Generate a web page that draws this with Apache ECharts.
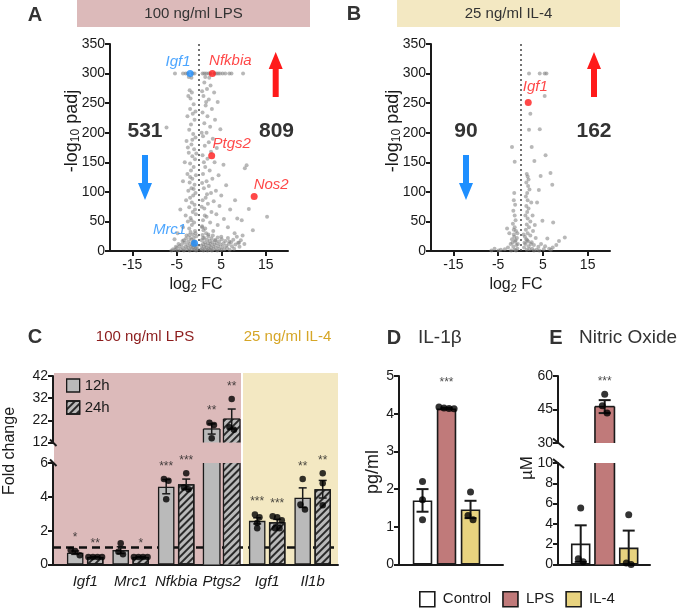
<!DOCTYPE html>
<html><head><meta charset="utf-8">
<script src="https://cdn.jsdelivr.net/npm/echarts@6/dist/echarts.min.js"></script>
<style>html,body{margin:0;padding:0;background:#fff}#c{width:677px;height:608px}</style>
</head><body><div id="c"></div>
<script>
// ---------------- DATA ----------------
const volcanoXTicks = [-15, -5, 5, 15];
const degCountsLPS = [531, 809];   // [down, up]
const degCountsIL4 = [90, 162];

const lpsGray = [
 [-5.4,300],[-3.6,300],[-3.0,300],[-2.6,300],[-1.4,300],[-1.0,300],[0.8,300],[1.2,300],[1.6,300],[2.1,300],[2.5,300],[3.5,300],[3.9,300],[4.3,300],[4.7,300],[5.3,300],[5.9,300],[6.8,300],[7.3,300],[9.9,300],[-2.3,294],[-1.7,293],[1.4,294],[2.3,293],
 [-2.1,272],[-1.6,268],[-2.4,262],[-1.2,248],[-2.0,240],[-1.4,232],[-2.6,228],[-1.0,222],[-1.8,214],[-2.2,205],[-1.3,198],[-0.8,192],[-2.8,186],[-1.7,180],[-1.1,172],[-2.3,166],[-1.5,160],[-0.9,155],[-3.2,150],[-2.0,148],[-1.2,142],[-1.8,136],[-2.6,130],[-0.7,128],[-1.5,122],[-2.1,116],[-1.0,112],[-3.6,118],[-1.7,106],[-2.4,102],[-0.8,98],[-1.3,94],[-2.0,90],[-2.9,86],[-1.6,82],[-1.0,78],[-2.2,74],[-4.2,70],[-1.4,66],[-0.7,62],[-3.0,60],[-1.9,56],[-2.5,50],[-1.1,48],[-1.6,44],[-3.6,40],[-2.2,38],[-0.9,34],[-4.8,30],[-1.4,28],[-2.8,26],[-2.0,22],[-5.5,20],[-3.4,18],[-1.2,16],[-7.3,209],[-1.9,258],[-0.8,236],[-2.5,175],[-1.5,188],[-0.6,165],[-2.0,125],[-1.2,105],[-0.9,70],[-1.7,52],
 [1.2,285],[2.6,280],[1.8,274],[3.4,268],[1.0,262],[2.2,256],[4.2,252],[1.5,246],[2.9,240],[0.8,234],[1.9,228],[3.6,222],[1.2,216],[2.5,210],[4.8,206],[1.7,200],[0.9,194],[3.1,190],[2.2,184],[1.3,178],[4.0,174],[2.7,168],[0.8,162],[1.9,156],[3.5,150],[5.5,146],[1.4,142],[2.4,136],[0.9,130],[4.4,128],[3.0,122],[1.7,118],[6.1,111],[2.2,110],[1.1,106],[3.8,102],[2.7,98],[5.0,94],[1.5,90],[0.8,86],[3.3,84],[2.0,80],[4.6,76],[1.2,72],[7.0,70],[2.8,66],[3.9,62],[1.7,58],[5.6,54],[0.9,52],[2.5,48],[4.2,44],[6.5,40],[1.4,38],[3.2,34],[8.0,30],[2.1,28],[5.0,24],[0.9,22],[3.7,18],[6.8,16],[9.0,14],[10.3,140],[10.7,145],[8.1,86],[8.6,55],[9.6,52],[11.2,71],[15.3,58],[12.1,35],[0.7,270],[1.6,252],[0.6,200],[1.1,150],[0.7,115],[1.8,96],[0.6,75],[1.3,60],[0.7,40],
 [-6.2,1],[-5.8,3],[-5.4,2],[-5.0,5],[-4.7,1],[-4.4,8],[-4.1,3],[-3.9,11],[-3.6,5],[-3.4,1],[-3.2,14],[-3.0,7],[-2.8,3],[-2.6,10],[-2.4,16],[-2.3,5],[-2.1,1],[-2.0,12],[-1.8,7],[-1.7,19],[-1.6,3],[-1.5,10],[-1.4,14],[-1.3,6],[-1.2,22],[-1.1,2],[-1.0,9],[-0.9,16],[-0.8,4],[-0.7,11],[-0.6,25],[-0.6,1],[-0.5,7],[-0.4,3],[-3.7,17],[-2.9,21],[-4.6,12],[-5.2,7],[-2.2,27],[-1.9,32],[-0.8,30],
 [0.4,2],[0.5,9],[0.6,18],[0.7,4],[0.8,27],[0.9,12],[1.0,1],[1.1,7],[1.2,22],[1.3,15],[1.4,3],[1.5,10],[1.6,30],[1.7,6],[1.8,19],[1.9,1],[2.0,13],[2.1,25],[2.2,4],[2.3,9],[2.4,17],[2.5,2],[2.6,12],[2.7,6],[2.8,21],[2.9,1],[3.0,15],[3.2,8],[3.3,3],[3.5,11],[3.6,18],[3.8,5],[4.0,13],[4.1,1],[4.3,8],[4.5,16],[4.6,4],[4.8,11],[5.0,2],[5.1,20],[5.3,7],[5.5,13],[5.7,3],[5.9,17],[6.1,9],[6.3,5],[6.5,22],[6.7,12],[6.9,2],[7.2,15],[7.4,8],[7.7,19],[7.9,4],[8.2,11],[8.5,24],[8.8,14],[9.1,7],[9.4,18],[9.8,26],[10.2,12],[3.1,26],[4.2,23],[1.0,35],[0.7,42]
];
const lpsHighlightGenes = ['Igf1', 'Nfkbia', 'Ptgs2', 'Nos2', 'Mrc1'];
const lpsHighlightFC    = [-2.0, 3.0, 2.85, 12.4, -1.0];
const lpsHighlightP     = [300, 300, 161, 92, 13];
const lpsHighlightDir   = ['down', 'up', 'up', 'up', 'down'];

const il4Gray = [
 [1.9,300],[4.3,300],[5.4,300],[5.8,300],[5.4,262],[2.2,232],[1.9,205],[4.3,206],[-1.9,176],[2.5,176],[-1.3,151],[3.1,152],[5.6,162],[6.7,132],[7.1,112],[4.5,127],[4.1,103],
 [1.4,130],[1.6,126],[1.8,121],[1.3,116],[1.7,110],[2.0,104],[1.5,98],[1.2,92],[1.6,86],[2.4,82],[1.3,76],[1.8,72],[1.5,66],[3.7,82],[1.1,60],[1.6,55],[2.2,50],[1.4,45],[1.9,40],[1.2,36],[2.8,34],[1.6,30],[2.2,26],[1.0,24],[3.4,22],[1.5,18],[2.5,15],[1.1,12],[3.0,10],[1.8,8],[4.0,7],[0.8,6],[2.6,4],[5.2,3],[1.4,2],[3.6,2],[6.4,4],[7.2,6],[8.0,10],[4.9,51],[7.3,48],[6.0,21],[8.6,17],[9.9,23],[4.6,12],[5.5,8],[3.2,44],[2.7,60],[0.9,14],[0.7,28],[1.3,20],[2.0,3],[3.0,1],[4.2,1],[6.8,2],[2.3,12],[1.7,16],
 [-1.4,98],[-1.5,86],[-1.2,78],[-1.6,68],[-1.3,60],[-1.1,52],[-1.7,46],[-1.3,40],[-2.5,30],[-3.0,38],[-1.0,34],[-1.5,28],[-0.8,22],[-1.9,20],[-1.2,16],[-2.2,12],[-0.9,10],[-1.6,7],[-2.8,6],[-0.7,4],[-3.5,3],[-1.3,2],[-4.4,2],[-5.8,4],[-2.1,1],[-1.0,1],[-6.5,1],[-4.9,1],[-1.4,24],[-1.1,18],[-0.6,12],[-1.8,14],[-0.7,30],[-1.5,36]
];
const il4HighlightGenes = ['Igf1'];
const il4HighlightFC    = [1.73];
const il4HighlightP     = [251];
const il4HighlightDir   = ['up'];

// qPCR fold change (panel C)
const qpcrGenes   = ['Igf1', 'Mrc1', 'Nfkbia', 'Ptgs2', 'Igf1', 'Il1b'];
const fc12hMean   = [0.70, 0.85, 4.60, 18.1, 2.58, 3.95];
const fc12hSem    = [0.10, 0.20, 0.42, 2.30, 0.18, 0.58];
const fc24hMean   = [0.45, 0.45, 4.75, 22.6, 2.50, 4.45];
const fc24hSem    = [0.02, 0.02, 0.30, 4.50, 0.17, 0.52];
const fc12hPoints = [[0.85,0.80,0.55],[1.25,0.75,0.60],[5.05,4.95,3.85],[20.9,19.9,13.9],[2.95,2.80,2.45,2.15],[5.05,3.55,3.25]];
const fc24hPoints = [[0.45,0.45,0.45,0.45],[0.45,0.45,0.45,0.45],[5.40,4.55,4.45],[31.6,18.9,17.8],[2.85,2.80,2.62,2.15,2.15],[5.40,4.80,3.50]];
const fc12hStars  = ['*', '', '***', '**', '***', '**'];
const fc24hStars  = ['**', '*', '***', '**', '***', '**'];
const fcBrokenAxis = [6, 12];        // lower segment max, upper segment min
const fcUpperTicks = [12, 22, 32, 42];

// ELISA / Griess (panels D, E)
const treatGroups = ['Control', 'LPS', 'IL-4'];
const il1bMean   = [1.70, 4.14, 1.46];
const il1bSem    = [0.30, 0.02, 0.23];
const il1bPoints = [[2.20,1.72,1.19],[4.18,4.15,4.14,4.13],[1.92,1.30,1.19]];
const il1bStars  = ['', '***', ''];
const noMean     = [2.06, 46.3, 1.67];
const noSem      = [1.80, 2.90, 1.67];
const noPoints   = [[5.57,0.56,0.26],[51.8,46.7,43.4],[4.90,0.16,0.00]];
const noStars    = ['', '***', ''];
const noBrokenAxis = [10, 30];

// ---------------- STYLE / LAYOUT ----------------
const FONT = "'Liberation Sans', Arial, Helvetica, sans-serif";
const INK = '#1a1a1a';
const GRAY_PT = 'rgba(128,128,128,0.7)';
const RED = '#ff1a1a', BLUE = '#1e8fff';
const PINK_BG = '#dcbaba', YELLOW_BG = '#f3e8c2';
const GROUP_COLORS = ['#ffffff', '#c07a7a', '#e8d37f'];
const BAR_GRAY = '#bababa';
const hlLabelOffsetLPS = [[-12,1],[18,0],[20,1],[17,1],[-25,0]];
const hlLabelOffsetIL4 = [[7,-3]];

const chart = echarts.init(document.getElementById('c'));

function merge(a, b) {
  const o = Object.assign({}, a);
  for (const k in b) {
    if (b[k] && typeof b[k] === 'object' && !Array.isArray(b[k]) && a[k] && typeof a[k] === 'object' && !Array.isArray(a[k])) o[k] = merge(a[k], b[k]);
    else o[k] = b[k];
  }
  return o;
}
const baseAxis = {
  type: 'value',
  axisLine: { show: true, onZero: false, lineStyle: { color: INK, width: 2 } },
  axisTick: { show: true, length: 5, lineStyle: { color: INK, width: 2 } },
  axisLabel: { color: INK, fontSize: 14, fontFamily: FONT, margin: 5 },
  splitLine: { show: false }
};
const ax = o => merge(baseAxis, o);

const grids = [
  { left: 110, top: 44, width: 178, height: 207 },   // A
  { left: 431, top: 44, width: 179, height: 207 },   // B
  { left: 53, top: 376, width: 285, height: 66.5 },  // C upper
  { left: 53, top: 463, width: 285, height: 101.5 }, // C lower
  { left: 399, top: 376, width: 104, height: 188.5 },// D
  { left: 558, top: 376, width: 92, height: 67 },    // E upper
  { left: 558, top: 463, width: 92, height: 101.5 }  // E lower
];
const C_MIN = -0.708, C_MAX = 5.556, C_OFF = 0.22;
const D_MIN = -0.98, D_MAX = 3.353;
const E_MIN = -0.946, E_MAX = 2.887;

const xAxes = [
  ax({ gridIndex: 0, min: -20, max: 20, axisTick: { customValues: volcanoXTicks }, axisLabel: { customValues: volcanoXTicks, margin: 7 } }),
  ax({ gridIndex: 1, min: -20, max: 20, axisTick: { customValues: volcanoXTicks }, axisLabel: { customValues: volcanoXTicks, margin: 7 } }),
  ax({ gridIndex: 2, min: C_MIN, max: C_MAX, show: false }),
  ax({ gridIndex: 3, min: C_MIN, max: C_MAX, axisTick: { show: false },
       axisLabel: { customValues: qpcrGenes.map((g, i) => i), formatter: v => qpcrGenes[Math.round(v)], fontStyle: 'italic', fontSize: 15, margin: 10 } }),
  ax({ gridIndex: 4, min: D_MIN, max: D_MAX, axisTick: { show: false }, axisLabel: { show: false } }),
  ax({ gridIndex: 5, min: E_MIN, max: E_MAX, show: false }),
  ax({ gridIndex: 6, min: E_MIN, max: E_MAX, axisTick: { show: false }, axisLabel: { show: false } })
];
const yAxes = [
  ax({ gridIndex: 0, min: 0, max: 350, interval: 50 }),
  ax({ gridIndex: 1, min: 0, max: 350, interval: 50 }),
  ax({ gridIndex: 2, min: fcBrokenAxis[1], max: 42, axisTick: { customValues: fcUpperTicks }, axisLabel: { customValues: fcUpperTicks } }),
  ax({ gridIndex: 3, min: 0, max: fcBrokenAxis[0], interval: 2 }),
  ax({ gridIndex: 4, min: 0, max: 5, interval: 1 }),
  ax({ gridIndex: 5, min: noBrokenAxis[1], max: 60, interval: 15 }),
  ax({ gridIndex: 6, min: 0, max: noBrokenAxis[0], interval: 2 })
];

function spread(vals, center, thr, step) {
  const idx = vals.map((v, i) => i).sort((a, b) => vals[b] - vals[a]);
  const clusters = []; let cur = [];
  idx.forEach(i => {
    if (cur.length && Math.abs(vals[cur[cur.length - 1]] - vals[i]) > thr) { clusters.push(cur); cur = []; }
    cur.push(i);
  });
  if (cur.length) clusters.push(cur);
  const out = [];
  clusters.forEach(c => c.forEach((i, j) => out.push([center + (j - (c.length - 1) / 2) * step, vals[i]])));
  return out;
}
function errRender(cap, lw) {
  return function (params, api) {
    const x = api.value(0), lo = api.value(1), hi = api.value(2);
    const t = api.coord([x, hi]), b = api.coord([x, lo]);
    const st = { stroke: INK, lineWidth: lw };
    return { type: 'group', children: [
      { type: 'line', shape: { x1: t[0], y1: t[1], x2: b[0], y2: b[1] }, style: st },
      { type: 'line', shape: { x1: t[0] - cap / 2, y1: t[1], x2: t[0] + cap / 2, y2: t[1] }, style: st },
      { type: 'line', shape: { x1: b[0] - cap / 2, y1: b[1], x2: b[0] + cap / 2, y2: b[1] }, style: st }
    ] };
  };
}
const series = [];
function errSeries(gi, data, cap, lw) {
  series.push({ type: 'custom', xAxisIndex: gi, yAxisIndex: gi, data, renderItem: errRender(cap, lw), encode: { x: 0, y: [1, 2] }, z: 4, silent: true });
}
function dotSeries(gi, data, size) {
  series.push({ type: 'scatter', xAxisIndex: gi, yAxisIndex: gi, data, symbolSize: size, itemStyle: { color: '#000' }, z: 5, silent: true });
}
function starSeries(gi, data, dist) {
  series.push({ type: 'scatter', xAxisIndex: gi, yAxisIndex: gi, data, symbolSize: 1, itemStyle: { color: 'rgba(0,0,0,0)' }, z: 6, silent: true, clip: false,
    label: { show: true, position: 'top', distance: dist, formatter: p => p.data.star, fontSize: 12, color: INK, fontFamily: FONT } });
}
// bars in a broken-axis segment: clipped bars lose their border on the cut edge
function barSegment(gi, name, xs, vals, segMin, segMax, barW, color, decal, bw) {
  const clipped = v => v > segMax || segMin > 0;
  const itemStyle = { color, borderColor: INK, borderWidth: bw };
  if (decal) itemStyle.decal = decal;
  const data = [], outline = [];
  xs.forEach((x, i) => {
    const v = vals[i];
    if (v <= segMin) return;
    if (clipped(v)) { data.push({ value: [x, v], itemStyle: { borderWidth: 0 } }); outline.push([x, v]); }
    else data.push([x, v]);
  });
  series.push({ type: 'bar', name, xAxisIndex: gi, yAxisIndex: gi, barWidth: barW, barGap: '-100%', z: 2, silent: true, itemStyle, data });
  if (outline.length) series.push({ type: 'custom', xAxisIndex: gi, yAxisIndex: gi, z: 3, silent: true, data: outline, encode: { x: 0, y: 1 },
    renderItem: (p, api) => {
      const x = api.value(0), v = api.value(1);
      const t = api.coord([x, Math.min(v, segMax)]), b = api.coord([x, Math.max(0, segMin)]);
      const h = barW / 2, st = { stroke: INK, lineWidth: bw };
      const ch = [
        { type: 'line', shape: { x1: t[0] - h, y1: t[1], x2: b[0] - h, y2: b[1] }, style: st },
        { type: 'line', shape: { x1: t[0] + h, y1: t[1], x2: b[0] + h, y2: b[1] }, style: st }
      ];
      if (v <= segMax) ch.push({ type: 'line', shape: { x1: t[0] - h, y1: t[1], x2: t[0] + h, y2: t[1] }, style: st });
      return { type: 'group', children: ch };
    } });
}

// ---- Volcano A & B
function volcano(gi, gray, genes, fc, p, dirs, offs) {
  series.push({ type: 'scatter', xAxisIndex: gi, yAxisIndex: gi, data: gray, symbolSize: 4, itemStyle: { color: GRAY_PT }, silent: true, z: 2,
    markLine: { silent: true, symbol: ['none', 'none'], label: { show: false }, animation: false,
      lineStyle: { type: [2, 3], color: '#444', width: 1.5 }, data: [{ xAxis: 0 }] } });
  series.push({ type: 'scatter', xAxisIndex: gi, yAxisIndex: gi, symbolSize: 7, z: 3, silent: true,
    data: genes.map((g, i) => {
      const col = dirs[i] === 'up' ? RED : BLUE;
      return { value: [fc[i], p[i]], itemStyle: { color: col },
        label: { show: true, formatter: g, position: 'top', distance: 2, offset: offs[i], color: col, fontSize: 15, fontStyle: 'italic', fontFamily: FONT } };
    }) });
}
volcano(0, lpsGray, lpsHighlightGenes, lpsHighlightFC, lpsHighlightP, lpsHighlightDir, hlLabelOffsetLPS);
volcano(1, il4Gray, il4HighlightGenes, il4HighlightFC, il4HighlightP, il4HighlightDir, hlLabelOffsetIL4);

// ---- Panel C (broken axis: upper grid 2, lower grid 3)
series.push({ type: 'line', xAxisIndex: 3, yAxisIndex: 3, data: [[C_MIN, 1], [C_MAX, 1]], symbol: 'none', silent: true, z: 1,
  lineStyle: { color: '#111', width: 2.5, type: [8, 5] } });
const hatch = { symbol: 'rect', symbolSize: 1, color: '#2a2a2a', dashArrayX: [1, 0], dashArrayY: [2, 2.5], rotation: -Math.PI / 4 };
[[fc12hMean, fc12hSem, fc12hPoints, fc12hStars, -C_OFF, '12h', null], [fc24hMean, fc24hSem, fc24hPoints, fc24hStars, C_OFF, '24h', hatch]].forEach(s => {
  const [mean, sem, pts, stars, off, name, decal] = s;
  [2, 3].forEach(gi => {
    const upper = gi === 2;
    const segMin = upper ? fcBrokenAxis[1] : 0, segMax = upper ? 42 : fcBrokenAxis[0];
    const inSeg = v => upper ? v > fcBrokenAxis[1] : v <= fcBrokenAxis[0];
    barSegment(gi, name, mean.map((m, i) => i + off), mean, segMin, segMax, 16.5, BAR_GRAY, decal, 1.3);
    errSeries(gi, mean.map((m, i) => [i + off, m - sem[i], m + sem[i]]).filter(d => inSeg((d[1] + d[2]) / 2)), 8, 1.5);
    const dots = [];
    pts.forEach((arr, i) => spread(arr.filter(inSeg), i + off, upper ? 2 : 0.3, 0.1).forEach(d => dots.push(d)));
    dotSeries(gi, dots, 6.5);
    const st = [];
    stars.forEach((t, i) => {
      if (!t) return;
      const anchor = Math.max(mean[i] + sem[i], ...pts[i]);
      if (inSeg(anchor)) st.push({ value: [i + off, anchor], star: t });
    });
    starSeries(gi, st, 6);
  });
});

// ---- Panel D
treatGroups.forEach((g, i) => barSegment(4, g, [i], [il1bMean[i]], 0, 5, 19.5, GROUP_COLORS[i], null, 1.6));
errSeries(4, il1bMean.map((m, i) => [i, m - il1bSem[i], m + il1bSem[i]]), 12, 2);
{
  const dots = [];
  il1bPoints.forEach((arr, i) => spread(arr, i, 0.15, 0.21).forEach(d => dots.push(d)));
  dotSeries(4, dots, 7);
  starSeries(4, il1bStars.map((t, i) => t ? { value: [i, Math.max(il1bMean[i] + il1bSem[i], ...il1bPoints[i])], star: t } : null).filter(Boolean), 18);
}
// ---- Panel E (broken axis: upper grid 5, lower grid 6)
[5, 6].forEach(gi => {
  const upper = gi === 5;
  const segMin = upper ? noBrokenAxis[1] : 0, segMax = upper ? 60 : noBrokenAxis[0];
  const inSeg = v => upper ? v > noBrokenAxis[1] : v <= noBrokenAxis[0];
  treatGroups.forEach((g, i) => barSegment(gi, g, [i], [noMean[i]], segMin, segMax, 19.5, GROUP_COLORS[i], null, 1.6));
  errSeries(gi, noMean.map((m, i) => [i, m - noSem[i], m + noSem[i]]).filter(d => inSeg((d[1] + d[2]) / 2)), 12, 2);
  const dots = [];
  noPoints.forEach((arr, i) => spread(arr.filter(inSeg), i, upper ? 3.5 : 0.5, 0.2).forEach(d => dots.push(d)));
  dotSeries(gi, dots, 7);
  const st = [];
  noStars.forEach((t, i) => {
    if (!t) return;
    const anchor = Math.max(noMean[i] + noSem[i], ...noPoints[i]);
    if (inSeg(anchor)) st.push({ value: [i, anchor], star: t });
  });
  starSeries(gi, st, 6);
});

// ---------------- DECORATION ----------------
const mctx = document.createElement('canvas').getContext('2d');
function tw(t, fs, w) { mctx.font = (w || 'normal') + ' ' + fs + 'px ' + FONT; return mctx.measureText(t).width; }
function txt(x, y, text, o) {
  return { type: 'text', x, y, z: 50, style: Object.assign({ text, fill: INK, fontSize: 15, fontFamily: FONT, align: 'center', verticalAlign: 'middle' }, o || {}) };
}
function subText(cx, cy, parts, rot) {
  let W = 0; parts.forEach(p => { p.w = tw(p.t, p.fs); W += p.w; });
  let x = -W / 2; const children = [];
  parts.forEach(p => { children.push({ type: 'text', x, y: p.dy || 0, style: { text: p.t, fontSize: p.fs, fontFamily: FONT, fill: INK, align: 'left', verticalAlign: 'middle' } }); x += p.w; });
  return { type: 'group', x: cx, y: cy, rotation: rot || 0, z: 50, children };
}
function arrow(cx, yTail, yTip, color) {
  const dir = yTip > yTail ? 1 : -1, hl = 17, hw = 14, sw = 6, yb = yTip - dir * hl;
  return { type: 'polygon', z: 50, shape: { points: [[cx - sw / 2, yTail], [cx + sw / 2, yTail], [cx + sw / 2, yb], [cx + hw / 2, yb], [cx, yTip], [cx - hw / 2, yb], [cx - sw / 2, yb]] }, style: { fill: color } };
}
function seg(x1, y1, x2, y2) { return { type: 'line', z: 50, shape: { x1, y1, x2, y2 }, style: { stroke: INK, lineWidth: 2 } }; }
const yLab = () => [{ t: '-log', fs: 18 }, { t: '10', fs: 12, dy: 4 }, { t: ' padj', fs: 18 }];
const xLab = () => [{ t: 'log', fs: 16 }, { t: '2', fs: 11, dy: 4 }, { t: ' FC', fs: 16 }];

const graphic = [
  { type: 'rect', z: -10, shape: { x: 77, y: 0, width: 233, height: 27 }, style: { fill: PINK_BG } },
  { type: 'rect', z: -10, shape: { x: 397, y: 0, width: 223, height: 27 }, style: { fill: YELLOW_BG } },
  { type: 'rect', z: -10, shape: { x: 54, y: 373, width: 187, height: 191.5 }, style: { fill: PINK_BG } },
  { type: 'rect', z: -10, shape: { x: 243, y: 373, width: 95, height: 191.5 }, style: { fill: YELLOW_BG } },
  txt(193.5, 14, '100 ng/ml LPS', { fill: '#333' }),
  txt(508.5, 14, '25 ng/ml IL-4', { fill: '#333' }),
  txt(35, 15, 'A', { fontSize: 20, fontWeight: 'bold', fill: '#333' }),
  txt(354, 14, 'B', { fontSize: 20, fontWeight: 'bold', fill: '#333' }),
  txt(145, 131, String(degCountsLPS[0]), { fontSize: 21, fontWeight: 'bold', fill: '#333' }),
  txt(276.5, 131, String(degCountsLPS[1]), { fontSize: 21, fontWeight: 'bold', fill: '#333' }),
  txt(466, 131, String(degCountsIL4[0]), { fontSize: 21, fontWeight: 'bold', fill: '#333' }),
  txt(594, 131, String(degCountsIL4[1]), { fontSize: 21, fontWeight: 'bold', fill: '#333' }),
  arrow(145, 155, 200, BLUE), arrow(275.7, 97, 52, RED),
  arrow(466, 155, 200, BLUE), arrow(594, 97, 52, RED),
  subText(72, 131, yLab(), Math.PI / 2), subText(393, 131, yLab(), Math.PI / 2),
  subText(196, 285, xLab()), subText(516, 285, xLab()),
  txt(35, 337, 'C', { fontSize: 20, fontWeight: 'bold', fill: '#333' }),
  txt(145, 337, '100 ng/ml LPS', { fill: '#8c1c1c' }),
  txt(287.5, 337, '25 ng/ml IL-4', { fill: '#d6a627' }),
  { type: 'text', x: 10, y: 451, rotation: Math.PI / 2, z: 50, style: { text: 'Fold change', fill: INK, fontSize: 16, fontFamily: FONT, align: 'center', verticalAlign: 'middle' } },
  txt(394, 338, 'D', { fontSize: 20, fontWeight: 'bold', fill: '#333' }),
  txt(418, 338, 'IL-1β', { fontSize: 19, align: 'left', fill: '#333' }),
  txt(556, 338, 'E', { fontSize: 20, fontWeight: 'bold', fill: '#333' }),
  txt(579, 338, 'Nitric Oxide', { fontSize: 19, align: 'left', fill: '#333' }),
  { type: 'text', x: 373, y: 472, rotation: Math.PI / 2, z: 50, style: { text: 'pg/ml', fill: INK, fontSize: 18, fontFamily: FONT, align: 'center', verticalAlign: 'middle' } },
  { type: 'text', x: 527, y: 468, rotation: Math.PI / 2, z: 50, style: { text: 'µM', fill: INK, fontSize: 17, fontFamily: FONT, align: 'center', verticalAlign: 'middle' } },
  seg(50, 439.5, 56.5, 446), seg(50, 459.5, 56.5, 466),
  seg(553, 438.5, 564, 447.5), seg(553, 459, 564, 468)
];

chart.setOption({
  animation: false,
  textStyle: { fontFamily: FONT },
  grid: grids,
  xAxis: xAxes,
  yAxis: yAxes,
  legend: [
    { data: treatGroups, left: 419, top: 591, padding: 0, icon: 'rect', itemWidth: 15, itemHeight: 15, itemGap: 11, selectedMode: false,
      itemStyle: { borderColor: INK, borderWidth: 1.6 },
      textStyle: { fontSize: 15, color: INK, fontFamily: FONT, padding: [0, 0, 0, 3] } },
    { data: ['12h', '24h'], left: 66, top: 378, padding: 0, orient: 'vertical', icon: 'rect', itemWidth: 13, itemHeight: 13, itemGap: 7, selectedMode: false,
      itemStyle: { borderColor: INK, borderWidth: 1.3 },
      textStyle: { fontSize: 15, color: INK, fontFamily: FONT } }
  ],
  series,
  graphic
});
</script></body></html>
